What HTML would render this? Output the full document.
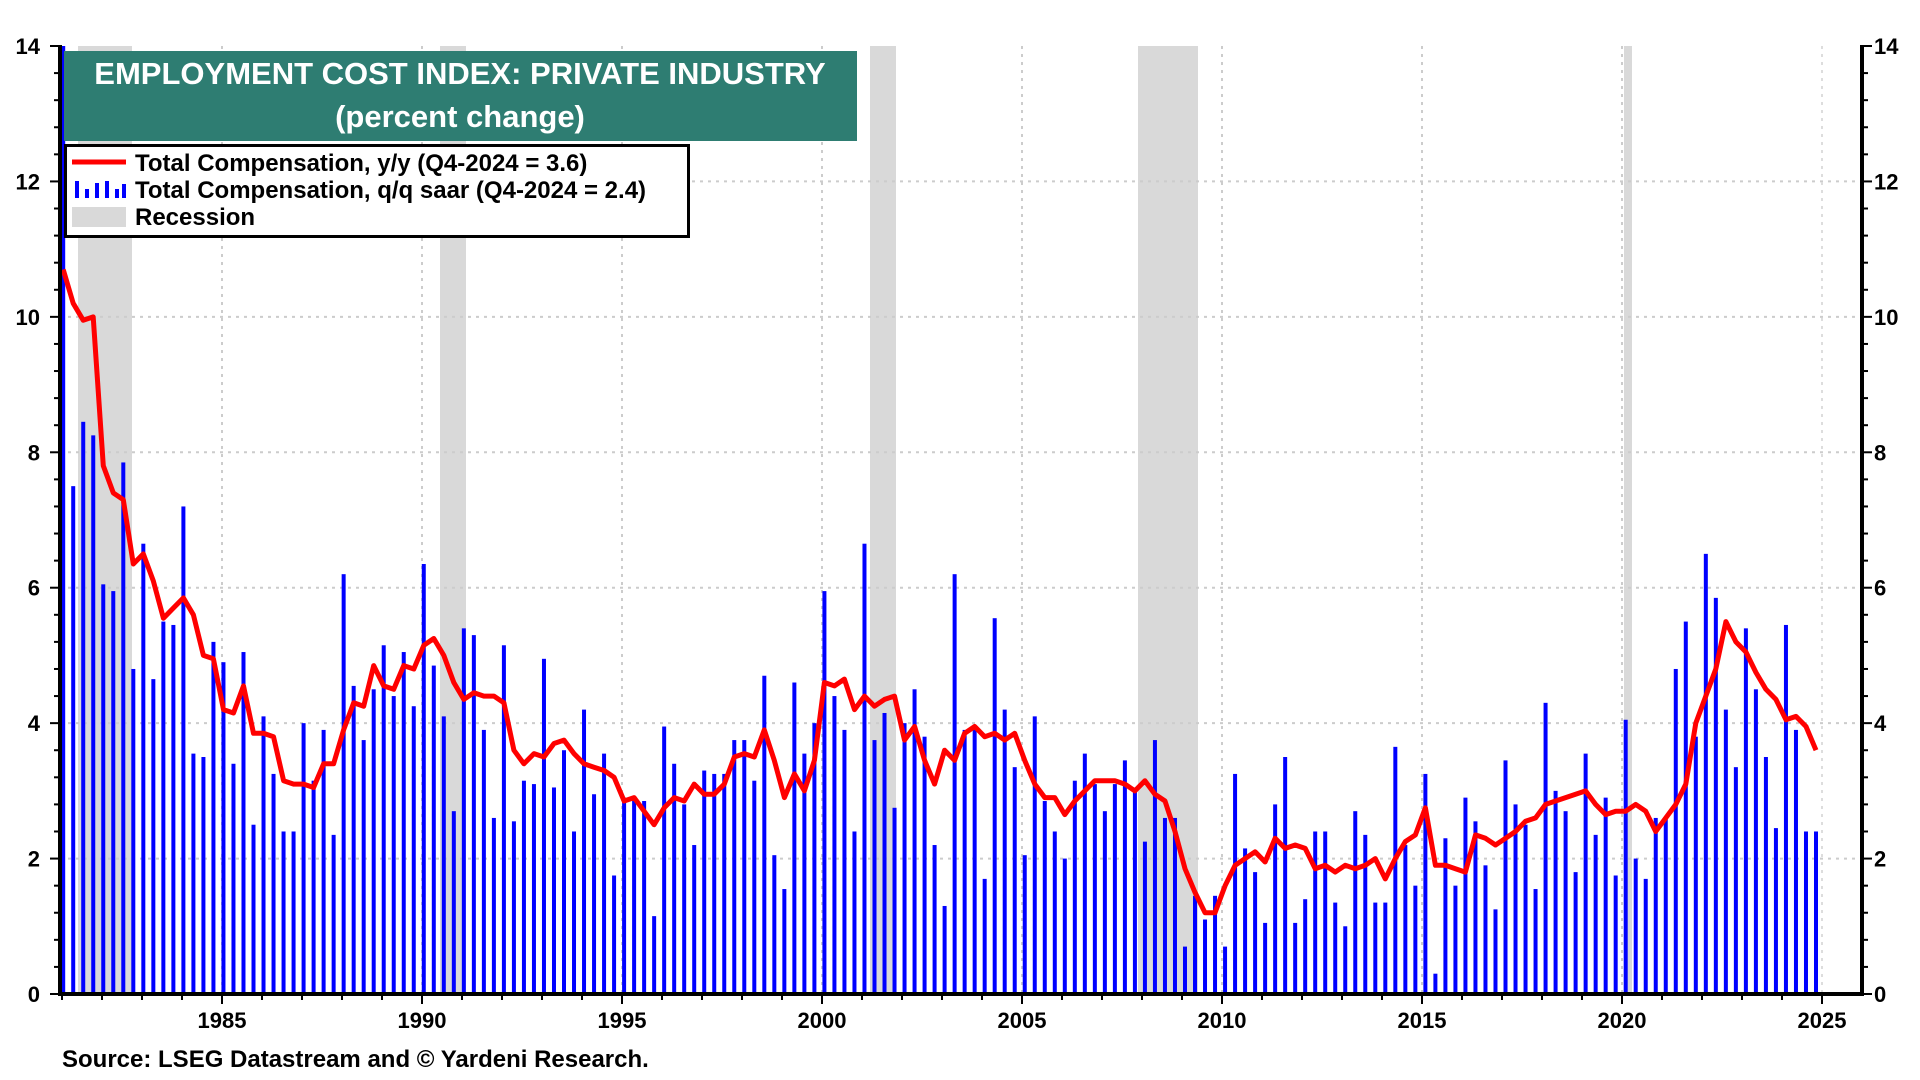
<!DOCTYPE html>
<html><head><meta charset="utf-8"><style>
html,body{margin:0;padding:0;background:#fff;}
svg{display:block;font-family:"Liberation Sans",Arial,sans-serif;font-weight:bold;}
</style></head><body>
<svg id="chart" width="1920" height="1080" viewBox="0 0 1920 1080" xmlns="http://www.w3.org/2000/svg">
<g id="recessions"></g>
<g id="grid"></g>
<g id="bars"></g>
<g id="line"></g>
<g id="axes"></g>
<g>
<rect x="64" y="51" width="793" height="90" fill="#2e7d72"/>
<text x="460" y="84" text-anchor="middle" fill="#fff" font-size="31">EMPLOYMENT COST INDEX: PRIVATE INDUSTRY</text>
<text x="460" y="127" text-anchor="middle" fill="#fff" font-size="31">(percent change)</text>
</g>
<g>
<rect x="65.5" y="145.5" width="623" height="91" fill="#fff" stroke="#000" stroke-width="3"/>
<line x1="72" y1="162" x2="126" y2="162" stroke="#f00" stroke-width="5"/>
<g fill="#00f">
<rect x="75" y="181" width="4" height="17"/><rect x="85" y="189" width="4" height="9"/><rect x="95" y="183" width="4" height="15"/><rect x="105" y="181" width="4" height="17"/><rect x="115" y="189" width="4" height="9"/><rect x="122" y="184" width="4" height="14"/></g>
<rect x="72" y="207" width="54" height="20" fill="#d9d9d9"/>
<text x="135" y="171" font-size="24">Total Compensation, y/y (Q4-2024 = 3.6)</text>
<text x="135" y="198" font-size="24">Total Compensation, q/q saar (Q4-2024 = 2.4)</text>
<text x="135" y="225" font-size="24">Recession</text>
</g>
<text x="62" y="1067" font-size="24">Source: LSEG Datastream and © Yardeni Research.</text>
</svg>
<script>
const startYear = 1981;
const qqValues = [
14.5,7.5,8.45,8.25, 6.05,5.95,7.85,4.8, 6.65,4.65,5.5,5.45, 7.2,3.55,3.5,5.2,
4.9,3.4,5.05,2.5, 4.1,3.25,2.4,2.4, 4.0,3.15,3.9,2.35, 6.2,4.55,3.75,4.5,
5.15,4.4,5.05,4.25, 6.35,4.85,4.1,2.7, 5.4,5.3,3.9,2.6, 5.15,2.55,3.15,3.1,
4.95,3.05,3.6,2.4, 4.2,2.95,3.55,1.75, 2.9,2.9,2.85,1.15, 3.95,3.4,2.8,2.2,
3.3,3.25,3.25,3.75, 3.75,3.15,4.7,2.05, 1.55,4.6,3.55,4.0, 5.95,4.4,3.9,2.4,
6.65,3.75,4.15,2.75, 4.0,4.5,3.8,2.2, 1.3,6.2,3.9,3.9, 1.7,5.55,4.2,3.35,
2.05,4.1,2.85,2.4, 2.0,3.15,3.55,3.1, 2.7,3.1,3.45,3.05, 2.25,3.75,2.6,2.6,
0.7,1.45,1.1,1.45, 0.7,3.25,2.15,1.8, 1.05,2.8,3.5,1.05, 1.4,2.4,2.4,1.35,
1.0,2.7,2.35,1.35, 1.35,3.65,2.2,1.6, 3.25,0.3,2.3,1.6, 2.9,2.55,1.9,1.25,
3.45,2.8,2.5,1.55, 4.3,3.0,2.7,1.8, 3.55,2.35,2.9,1.75, 4.05,2.0,1.7,2.6,
2.6,4.8,5.5,3.8, 6.5,5.85,4.2,3.35, 5.4,4.5,3.5,2.45, 5.45,3.9,2.4,2.4];
const yyValues = [
10.7,10.2,9.95,10.0, 7.8,7.4,7.3,6.35, 6.5,6.1,5.55,5.7, 5.85,5.6,5.0,4.95,
4.2,4.15,4.55,3.85, 3.85,3.8,3.15,3.1, 3.1,3.05,3.4,3.4, 3.9,4.3,4.25,4.85,
4.55,4.5,4.85,4.8, 5.15,5.25,5.0,4.6, 4.35,4.45,4.4,4.4, 4.3,3.6,3.4,3.55,
3.5,3.7,3.75,3.55, 3.4,3.35,3.3,3.2, 2.85,2.9,2.7,2.5, 2.75,2.9,2.85,3.1,
2.95,2.95,3.1,3.5, 3.55,3.5,3.9,3.45, 2.9,3.25,3.0,3.45, 4.6,4.55,4.65,4.2,
4.4,4.25,4.35,4.4, 3.75,3.95,3.45,3.1, 3.6,3.45,3.85,3.95, 3.8,3.85,3.75,3.85,
3.45,3.1,2.9,2.9, 2.65,2.85,3.0,3.15, 3.15,3.15,3.1,3.0, 3.15,2.95,2.85,2.4,
1.85,1.5,1.2,1.2, 1.6,1.9,2.0,2.1, 1.95,2.3,2.15,2.2, 2.15,1.85,1.9,1.8,
1.9,1.85,1.9,2.0, 1.7,2.0,2.25,2.35, 2.75,1.9,1.9,1.85, 1.8,2.35,2.3,2.2,
2.3,2.4,2.55,2.6, 2.8,2.85,2.9,2.95, 3.0,2.8,2.65,2.7, 2.7,2.8,2.7,2.4,
2.6,2.8,3.1,4.0, 4.4,4.8,5.5,5.2, 5.05,4.75,4.5,4.35, 4.05,4.1,3.95,3.6];
const recessionStarts = [1981.4, 1990.45, 2001.2, 2007.9, 2020.05];
const recessionEnds = [1982.75, 1991.1, 2001.85, 2009.4, 2020.25];
const yTicks = [0,2,4,6,8,10,12,14];
const xTicks = [1985,1990,1995,2000,2005,2010,2015,2020,2025];

const NS = "http://www.w3.org/2000/svg";
const L = 60, R = 1862, T = 46, B = 994;
const yMin = 0, yMax = 14, xMin = 1980.95, xMax = 2026.0;
function xs(t){ return L + (t - xMin) / (xMax - xMin) * (R - L); }
function ys(v){ return B - (Math.min(v, yMax) - yMin) / (yMax - yMin) * (B - T); }
function tq(i){ return startYear + i / 4 + 0.03 + i * 0.0004; }
function mk(tag, attrs, parent){ const e = document.createElementNS(NS, tag); for (const k in attrs) e.setAttribute(k, attrs[k]); parent.appendChild(e); return e; }

const gRec = document.getElementById('recessions');
recessionStarts.forEach((s, i) => {
  const r = mk('rect', {x: xs(s), y: T, width: xs(recessionEnds[i]) - xs(s), height: B - T, fill: '#d9d9d9'}, gRec);
  
  
});
const gGrid = document.getElementById('grid');
yTicks.forEach(v => { if (v > 0 && v < 14) mk('line', {x1: L, x2: R, y1: ys(v), y2: ys(v), stroke: '#ccc', 'stroke-width': 2, 'stroke-dasharray': '3 5'}, gGrid); });
xTicks.forEach(t => { if (t < 2025) mk('line', {x1: xs(t), x2: xs(t), y1: T, y2: B, stroke: '#ccc', 'stroke-width': 2, 'stroke-dasharray': '3 5'}, gGrid); });
mk('line', {x1: xs(2025), x2: xs(2025), y1: T, y2: B, stroke: '#ddd', 'stroke-width': 2, 'stroke-dasharray': '3 5'}, gGrid);

const gBars = document.getElementById('bars');
qqValues.forEach((v, i) => {
  const x = xs(tq(i));
  const b = mk('rect', {x: x - 2, y: ys(v), width: 4, height: B - ys(v), fill: '#0000ff'}, gBars);
  
  
});
const gLine = document.getElementById('line');
const pts = yyValues.map((v, i) => xs(tq(i)).toFixed(1) + ',' + ys(v).toFixed(1)).join(' ');
const pl = mk('polyline', {points: pts, fill: 'none', stroke: '#ff0000', 'stroke-width': 5, 'stroke-linejoin': 'round'}, gLine);



const gAx = document.getElementById('axes');
mk('line', {x1: L, x2: L, y1: T - 1, y2: B + 2, stroke: '#000', 'stroke-width': 4}, gAx);
mk('line', {x1: R, x2: R, y1: T - 1, y2: B + 2, stroke: '#000', 'stroke-width': 4}, gAx);
mk('line', {x1: L, x2: R + 2, y1: B, y2: B, stroke: '#000', 'stroke-width': 4}, gAx);
for (let v = 0; v <= 14.001; v += 0.4) {
  const major = Math.abs(v - Math.round(v / 2) * 2) < 0.01;
  const len = major ? 10 : 6;
  mk('line', {x1: L - len, x2: L, y1: ys(v), y2: ys(v), stroke: '#000', 'stroke-width': 2}, gAx);
  mk('line', {x1: R, x2: R + len, y1: ys(v), y2: ys(v), stroke: '#000', 'stroke-width': 2}, gAx);
}
yTicks.forEach(v => {
  const a = mk('text', {x: 40, y: ys(v) + 8, 'text-anchor': 'end', 'font-size': 22}, gAx);
  a.textContent = v;
  
  
  const b = mk('text', {x: 1874, y: ys(v) + 8, 'text-anchor': 'start', 'font-size': 22}, gAx);
  b.textContent = v;
  
  
});
for (let y = 1981; y <= 2025; y++) {
  const major = y % 5 === 0;
  mk('line', {x1: xs(y), x2: xs(y), y1: B, y2: B + (major ? 10 : 6), stroke: '#000', 'stroke-width': 2}, gAx);
}
xTicks.forEach(t => {
  const a = mk('text', {x: xs(t), y: 1028, 'text-anchor': 'middle', 'font-size': 22}, gAx);
  a.textContent = t;
  
  
});
</script>
</body></html>
